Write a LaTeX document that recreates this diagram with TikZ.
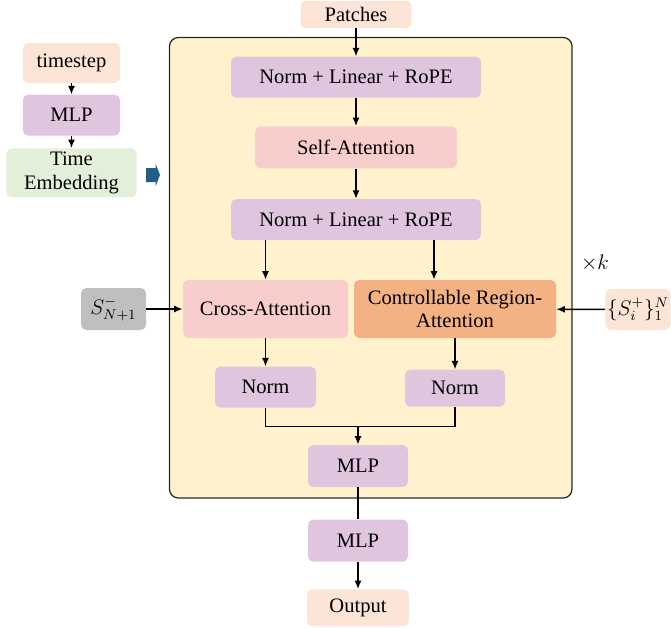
\documentclass[tikz,border=0pt]{standalone}
\usepackage{fontspec}
\setmainfont{Liberation Serif}
\usetikzlibrary{arrows.meta,positioning,calc}

\definecolor{peach}{HTML}{FCE4D6}
\definecolor{lilac}{HTML}{E0C5DF}
\definecolor{rose}{HTML}{F8CECC}
\definecolor{apricot}{HTML}{F4B183}
\definecolor{mint}{HTML}{E2F0D9}
\definecolor{cream}{HTML}{FFF2CC}
\definecolor{stone}{HTML}{BFBFBF}
\definecolor{teal}{HTML}{1F5F87}

\begin{document}
\begin{tikzpicture}[
  blk/.style={rounded corners=3pt, align=center, inner sep=1pt, font=\fontsize{11.7}{13.5}\selectfont},
  io/.style={blk, fill=peach},
  lin/.style={blk, fill=lilac},
  attn/.style={blk, fill=rose},
  region/.style={blk, fill=apricot},
  emb/.style={blk, fill=mint},
  cond/.style={blk, fill=stone},
  frame/.style={draw=black!85, fill=cream, rounded corners=5pt, line width=0.7pt},
  arr/.style={-{Latex[length=1.7mm,width=1.4mm]}, line width=0.8pt},
  wire/.style={line width=0.8pt}
]
\useasboundingbox (0,0) rectangle (13.42,-12.56);

% transformer block
\draw[frame] (3.39,-0.75) rectangle (11.44,-9.96);

\node[io, minimum width=2.22cm, minimum height=0.54cm] (patches) at (7.12,-0.29) {Patches};
\node[lin, minimum width=5.0cm, minimum height=0.82cm, below=0.56cm of patches] (nlrA) {Norm + Linear + RoPE};
\node[attn, minimum width=4.04cm, minimum height=0.84cm, below=0.56cm of nlrA] (selfatt) {Self-Attention};
\node[lin, minimum width=5.0cm, minimum height=0.82cm, below=0.6cm of selfatt] (nlrB) {Norm + Linear + RoPE};

\node[attn, minimum width=3.3cm, minimum height=1.16cm] (cross) at (5.31,-6.18) {Cross-Attention};
\node[region, minimum width=4.04cm, minimum height=1.16cm] (cra) at (9.1,-6.18) {Controllable Region-\\Attention};
\node[lin, minimum width=2.02cm, minimum height=0.82cm, below=0.56cm of cross] (normA) {Norm};
\node[lin, minimum width=2.0cm, minimum height=0.74cm, below=0.62cm of cra] (normB) {Norm};
\node[lin, minimum width=2.0cm, minimum height=0.84cm] (mlpA) at (7.16,-9.32) {MLP};
\node[lin, minimum width=2.0cm, minimum height=0.84cm, below=0.64cm of mlpA] (mlpB) {MLP};
\node[io, minimum width=2.04cm, minimum height=0.74cm, below=0.54cm of mlpB] (output) {Output};

% timestep branch
\node[io, minimum width=1.94cm, minimum height=0.8cm] (tstep) at (1.43,-1.26) {timestep};
\node[lin, minimum width=1.94cm, minimum height=0.82cm, below=0.22cm of tstep] (mlpT) {MLP};
\node[emb, minimum width=2.6cm, minimum height=0.98cm, below=0.24cm of mlpT] (temb) {Time\\Embedding};
\fill[teal] (2.92,-3.36) -- (3.11,-3.36) -- (3.11,-3.27) -- (3.2,-3.5)
  -- (3.11,-3.73) -- (3.11,-3.64) -- (2.92,-3.64) -- cycle;

% conditions
\node[cond, minimum width=1.3cm, minimum height=0.84cm] (sneg) at (2.27,-6.18) {$S_{N+1}^{-}$};
\node[io, minimum width=1.22cm, minimum height=0.82cm] (spos) at (12.76,-6.19) {$\{S_i^{+}\}_1^{N}$};
\node[font=\fontsize{11.7}{13.5}\selectfont] (times) at (11.9,-5.26) {$\times k$};

\draw[arr] (patches) -- (nlrA);
\draw[arr] (nlrA) -- (selfatt);
\draw[arr] (selfatt) -- (nlrB);
\draw[arr] (nlrB.south -| cross.north) -- (cross.north);
\draw[arr] ([xshift=-0.42cm]cra.north |- nlrB.south) -- ([xshift=-0.42cm]cra.north);
\draw[arr] (cross) -- (normA);
\draw[arr] (cra) -- (normB);
\coordinate[above=0.36cm of mlpA.north] (join);
\draw[wire] (normA.south) |- (join) -| (normB.south);
\draw[arr] (join) -- (mlpA);
\draw[wire] (mlpA) -- (mlpB);
\draw[arr] (mlpB) -- (output);

\draw[arr] (tstep) -- (mlpT);
\draw[arr] (mlpT) -- (temb);
\draw[arr] (sneg) -- (cross);
\draw[arr] (spos) -- (cra);

\end{tikzpicture}
\end{document}
